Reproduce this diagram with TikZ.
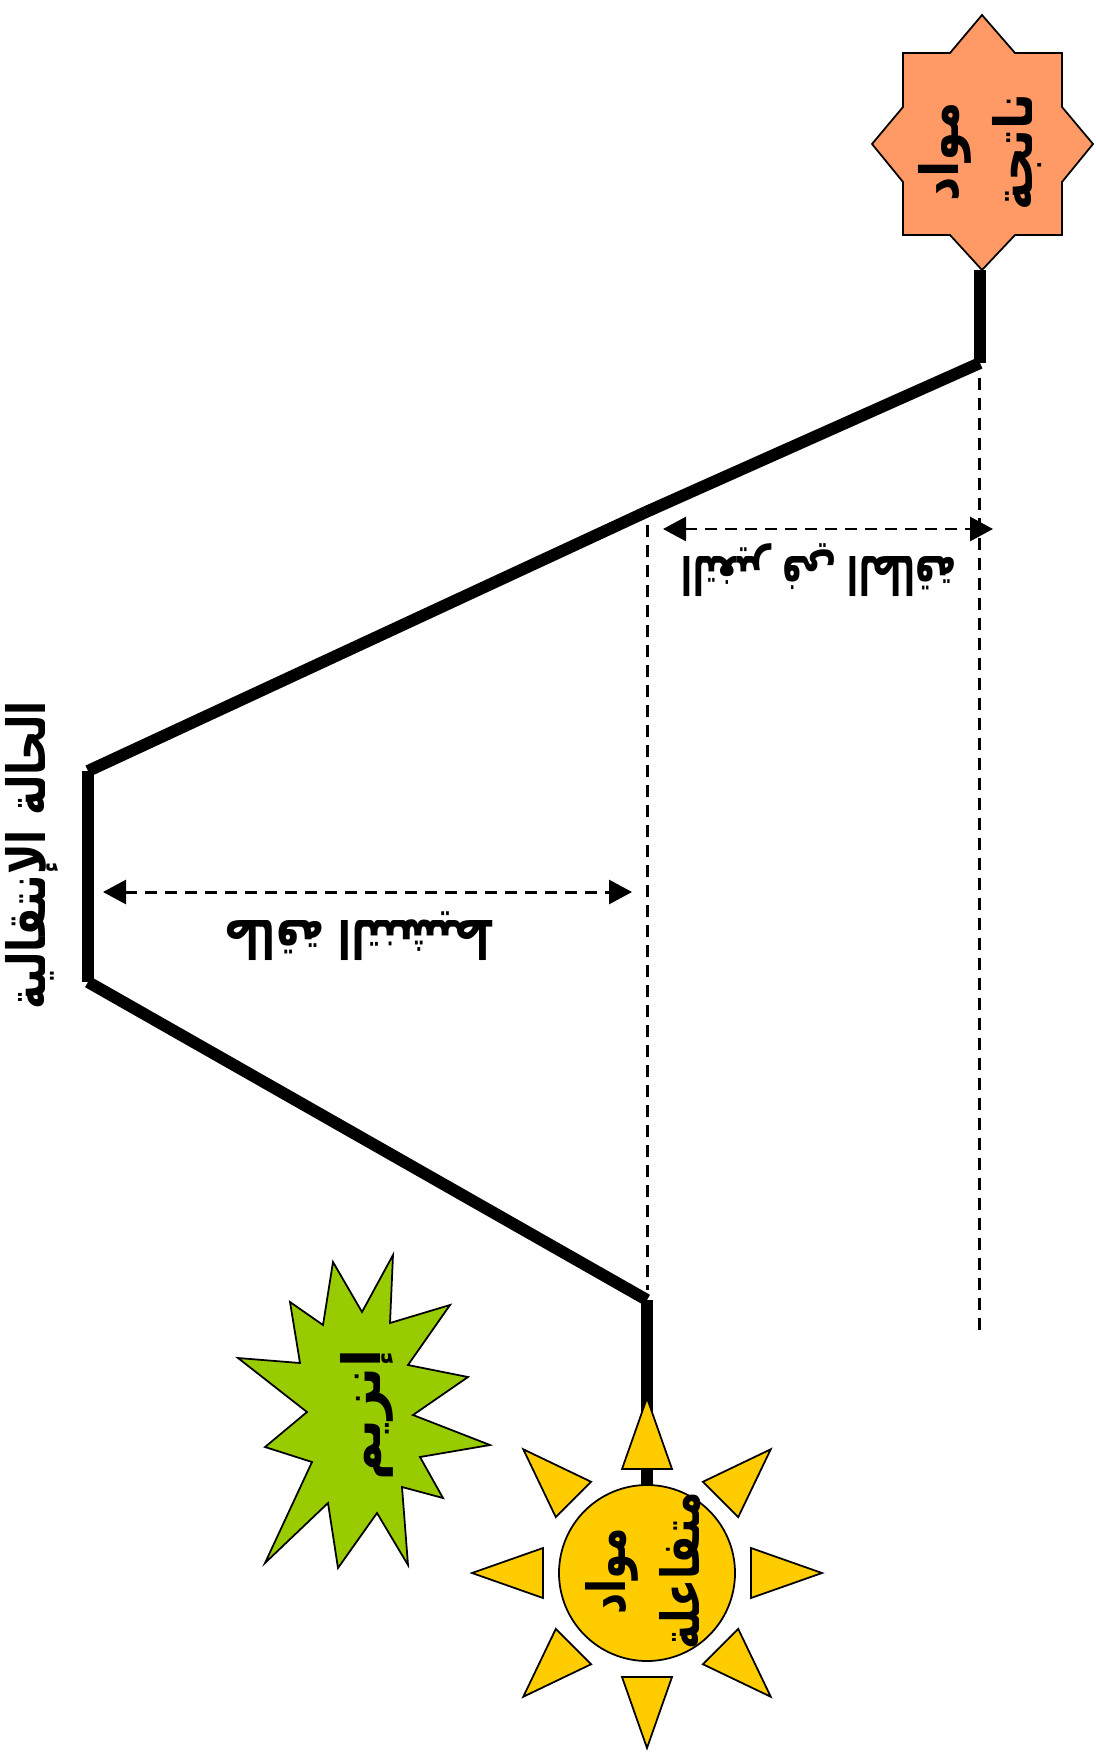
\documentclass[tikz,border=0pt]{standalone}
\usepackage{fontspec}
\usepackage{xcolor}
\usepackage{graphicx}
\usepackage{tikz}
\usetikzlibrary{calc,arrows.meta,positioning}
\TeXXeTstate=1
\newfontfamily\arabicfont[Script=Arabic]{DejaVu Sans}
\definecolor{prodOrange}{RGB}{255,153,102}
\definecolor{enzGreen}{RGB}{153,204,0}
\definecolor{sunYellow}{RGB}{255,204,0}
\newcommand{\artext}[1]{\beginR #1\endR}
\tikzset{
  levelline/.style={line width=3.4pt, line cap=butt},
  guideline/.style={line width=0.85pt, dash pattern=on 1.2mm off 0.8mm},
  dimarrow/.style={guideline, {Triangle[length=2.3mm,width=2.4mm]}-{Triangle[length=2.3mm,width=2.4mm]}},
  lbl/.style={font=\arabicfont\bfseries\fontsize{15}{21}\selectfont, inner sep=0pt, align=center},
  outline/.style={draw=black, line width=0.5pt, line join=miter}
}

\begin{document}
\begin{tikzpicture}[x=0.1mm, y=-0.1mm]
\useasboundingbox (0,0) rectangle (1095,1760);

% energy path
\coordinate (prodLow) at (980,270);
\coordinate (prodLvl) at (980,363);
\coordinate (mid) at (646,512);
\coordinate (tsTop) at (88,771);
\coordinate (tsBot) at (88,982);
\coordinate (reacLvl) at (647,1300);
\coordinate (sun) at (647,1573);
\draw[levelline] (prodLow) -- (prodLvl);
\draw[levelline] (prodLvl) -- (mid);
\draw[levelline] (mid) -- (tsTop);
\draw[levelline] (tsTop) -- (tsBot);
\draw[levelline] (tsBot) -- (reacLvl);
\draw[levelline] (reacLvl) -- (sun);

% guides
\coordinate (guideA1) at (647,525);
\coordinate (guideA2) at (647,1290);
\coordinate (guideB1) at (979,378);
\coordinate (guideB2) at (979,1332);
\draw[guideline] (guideA1) -- (guideA2);
\draw[guideline] (guideB1) -- (guideB2);

\coordinate (dEL) at (663,529);
\coordinate (dER) at (993,529);
\coordinate (EaL) at (103,892);
\coordinate (EaR) at (632,892);
\draw[dimarrow] (dEL) -- (dER);
\draw[dimarrow] (EaL) -- (EaR);

\node[lbl, rotate=180, xscale=0.62] (dE) at (819,570) {\artext{التغير في الطاقة}};
\node[lbl, rotate=180, xscale=0.74] (Ea) at (360,936) {\artext{طاقة التنشيط}};
\node[lbl, rotate=90, xscale=0.78] (ts) at (32,855) {\artext{الحالة الإنتقالية}};

% products star
\draw[outline, fill=prodOrange] (982,15) -- (1015,53) -- (1062,53) -- (1062,107) -- (1093,144)
  -- (1062,182) -- (1062,235) -- (1015,235) -- (982,270) -- (950,235) -- (903,235)
  -- (903,182) -- (872,144) -- (903,107) -- (903,53) -- (950,53) -- cycle;
\node[lbl, rotate=90, xscale=0.9] (prod) at (980,152) {\artext{مواد}\\\artext{ناتجة}};

% enzyme burst
\draw[outline, fill=enzGreen] (393,1255) -- (390,1323) -- (450,1305) -- (408,1365) -- (468,1377)
  -- (413,1415) -- (490,1445) -- (420,1457) -- (443,1498) -- (402,1487) -- (408,1565)
  -- (377,1513) -- (338,1568) -- (328,1503) -- (265,1563) -- (312,1462) -- (265,1447)
  -- (307,1412) -- (238,1358) -- (300,1363) -- (290,1302) -- (323,1325) -- (333,1262)
  -- (362,1312) -- cycle;
\node[lbl, rotate=90] (enz) at (367,1415) {\artext{إنزيم}};

% reactants sun
\foreach \a in {0,45,...,315}
{
    \draw[outline, fill=sunYellow] ([shift={(\a:175)}]sun) -- ([shift={(\a+13.5:107)}]sun) -- ([shift={(\a-13.5:107)}]sun) -- cycle;
}
\node[outline, circle, fill=sunYellow, minimum size=17.6mm, inner sep=0pt] (reacSun) at (sun) {};
\node[lbl, rotate=90, xscale=0.78] (reac) at (643,1571) {\artext{مواد}\\\artext{متفاعلة}};
\end{tikzpicture}
\end{document}
